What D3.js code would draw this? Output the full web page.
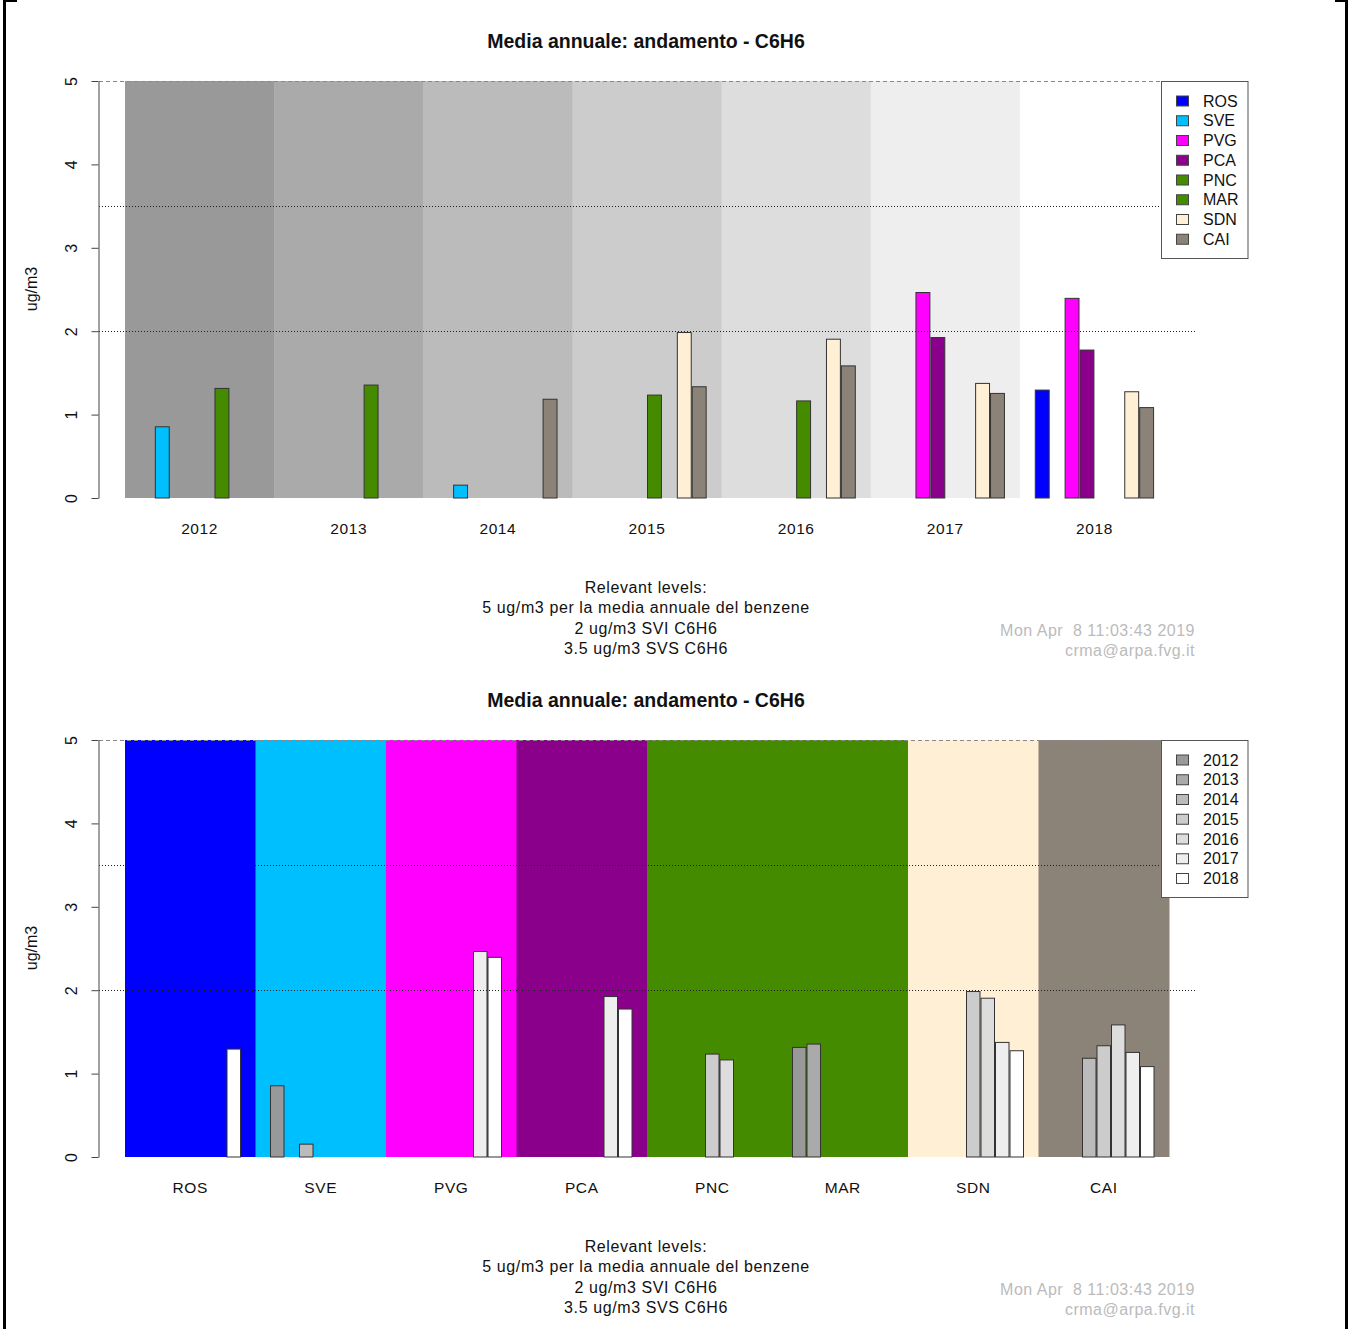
<!DOCTYPE html>
<html><head><meta charset="utf-8">
<script src="https://cdn.jsdelivr.net/npm/d3@7"></script>
<style>
html,body{margin:0;padding:0;background:#fff;}
svg{display:block;font-family:"Liberation Sans",Arial,Helvetica,sans-serif;}
</style></head>
<body>
<svg id="chart" width="1354" height="1329"></svg>
<script>
const stations = ["ROS","SVE","PVG","PCA","PNC","MAR","SDN","CAI"];
const stationColors = ["#0000FF","#00BFFF","#FF00FF","#8B008B","#458B00","#458B00","#FFEFD5","#8B8378"];
const years = ["2012","2013","2014","2015","2016","2017","2018"];
const yearColors = ["#999999","#AAAAAA","#BBBBBB","#CCCCCC","#DDDDDD","#EEEEEE","#FFFFFF"];
// values[station][year], null = no data
const valROS = [null,null,null,null,null,null,1.30];
const valSVE = [0.86,null,0.16,null,null,null,null];
const valPVG = [null,null,null,null,null,2.47,2.40];
const valPCA = [null,null,null,null,null,1.93,1.78];
const valPNC = [null,null,null,1.24,1.17,null,null];
const valMAR = [1.32,1.36,null,null,null,null,null];
const valSDN = [null,null,null,1.99,1.91,1.38,1.28];
const valCAI = [null,null,1.19,1.34,1.59,1.26,1.09];
const yTicks = [0,1,2,3,4,5];
const refLevels = [2,3.5];
const limitLevel = 5;
const titleText = "Media annuale: andamento - C6H6";
const yLabel = "ug/m3";
const footerLines = ["Relevant levels:","5 ug/m3 per la media annuale del benzene","2 ug/m3 SVI C6H6","3.5 ug/m3 SVS C6H6"];
const stampLines = ["Mon Apr  8 11:03:43 2019","crma@arpa.fvg.it"];

const values = [valROS,valSVE,valPVG,valPCA,valPNC,valMAR,valSDN,valCAI];

const svg = d3.select("#chart");

// page border marks
svg.append("line").attr("x1",4.5).attr("x2",4.5).attr("y1",0).attr("y2",1329).attr("stroke","#000").attr("stroke-width",3);
svg.append("line").attr("x1",3).attr("x2",17).attr("y1",1).attr("y2",1).attr("stroke","#000").attr("stroke-width",2);
svg.append("line").attr("x1",1346.5).attr("x2",1346.5).attr("y1",0).attr("y2",1329).attr("stroke","#000").attr("stroke-width",3);
svg.append("line").attr("x1",1335).attr("x2",1348).attr("y1",1).attr("y2",1).attr("stroke","#000").attr("stroke-width",2);

function drawPanel(offY, groups, groupColors, series, seriesColors, getVal) {
  const g = svg.append("g").attr("transform",`translate(0,${offY})`);
  const nG = groups.length, nS = series.length, unitsPerG = nS + 2;
  const x = d3.scaleLinear().domain([0, nG*unitsPerG]).range([125, 1169]);
  const y = d3.scaleLinear().domain([0, 5]).range([498, 81]);

  // background bands
  g.selectAll("rect.band").data(groups).enter().append("rect")
    .attr("x",(d,i)=>x(i*unitsPerG)).attr("width",(d,i)=>x((i+1)*unitsPerG)-x(i*unitsPerG)+0.5)
    .attr("y",y(5)).attr("height",y(0)-y(5))
    .attr("fill",(d,i)=>groupColors[i]);

  // bars
  const bars = [];
  groups.forEach((gr,gi)=>{
    series.forEach((s,si)=>{
      const v = getVal(gi,si);
      if (v!=null) bars.push({gi,si,v});
    });
  });
  g.selectAll("rect.bar").data(bars).enter().append("rect")
    .attr("x",d=>x(d.gi*unitsPerG+1+d.si)+0.5)
    .attr("width",d=>x(1)-x(0)-1)
    .attr("y",d=>y(d.v)+0.5).attr("height",d=>y(0)-y(d.v)-0.5)
    .attr("fill",d=>seriesColors[d.si]).attr("stroke","#333").attr("stroke-width",1);

  // reference lines
  g.append("line").attr("x1",99).attr("x2",1195).attr("y1",y(limitLevel)+0.5).attr("y2",y(limitLevel)+0.5)
    .attr("stroke","#888").attr("stroke-dasharray","4,3").attr("stroke-width",1);
  refLevels.forEach(l=>{
    g.append("line").attr("x1",99).attr("x2",1195).attr("y1",Math.round(y(l))+0.5).attr("y2",Math.round(y(l))+0.5)
      .attr("stroke","#222").attr("stroke-dasharray","1,2").attr("stroke-width",1);
  });

  // y axis
  const ax = g.append("g").attr("transform","translate(98.5,0)")
    .call(d3.axisLeft(y).tickValues(yTicks).tickSize(7).tickSizeOuter(0).tickFormat(d3.format("d")));
  ax.select(".domain").attr("stroke","#444");
  ax.selectAll(".tick line").attr("stroke","#444");
  ax.selectAll(".tick text").attr("font-size",16).attr("fill","#111")
    .attr("x",null).attr("dy",null).attr("text-anchor","middle")
    .attr("transform","translate(-22,0) rotate(-90)");

  g.append("text").attr("transform","translate(37,289) rotate(-90)").attr("text-anchor","middle")
    .attr("font-size",16).attr("fill","#111").text(yLabel);

  // group labels
  g.selectAll("text.glab").data(groups).enter().append("text")
    .attr("x",(d,i)=>x(i*unitsPerG+unitsPerG/2)).attr("y",534)
    .attr("text-anchor","middle").attr("font-size",15.5).attr("letter-spacing",0.6).attr("fill","#111").text(d=>d);

  // title
  g.append("text").attr("x",646).attr("y",48).attr("text-anchor","middle")
    .attr("font-size",19.5).attr("font-weight","bold").attr("fill","#111").text(titleText);

  // footer
  footerLines.forEach((t,i)=>{
    g.append("text").attr("x",646).attr("y",593+i*20.3).attr("text-anchor","middle")
      .attr("font-size",16).attr("letter-spacing",0.6).attr("fill","#111").text(t);
  });
  stampLines.forEach((t,i)=>{
    g.append("text").attr("x",1195).attr("y",636+i*20).attr("text-anchor","end")
      .attr("font-size",16).attr("letter-spacing",0.5).attr("fill","#bbb").style("white-space","pre").text(t);
  });

  // legend
  const lg = g.append("g");
  lg.append("rect").attr("x",1161.5).attr("y",81.5).attr("width",86.5).attr("height",series.length===8?177:157)
    .attr("fill","#fff").attr("stroke","#555").attr("stroke-width",1);
  series.forEach((s,i)=>{
    const cy = 101 + i*19.75;
    lg.append("rect").attr("x",1176.5).attr("y",cy-5).attr("width",12).attr("height",10)
      .attr("fill",seriesColors[i]).attr("stroke","#444").attr("stroke-width",1);
    lg.append("text").attr("x",1203).attr("y",cy+5.5).attr("font-size",16).attr("fill","#111").text(s);
  });
}

// top: groups = years, series = stations
drawPanel(0, years, yearColors, stations, stationColors, (gi,si)=>values[si][gi]);
// bottom: groups = stations, series = years
drawPanel(659, stations, stationColors, years, yearColors, (gi,si)=>values[gi][si]);
</script>
</body></html>
